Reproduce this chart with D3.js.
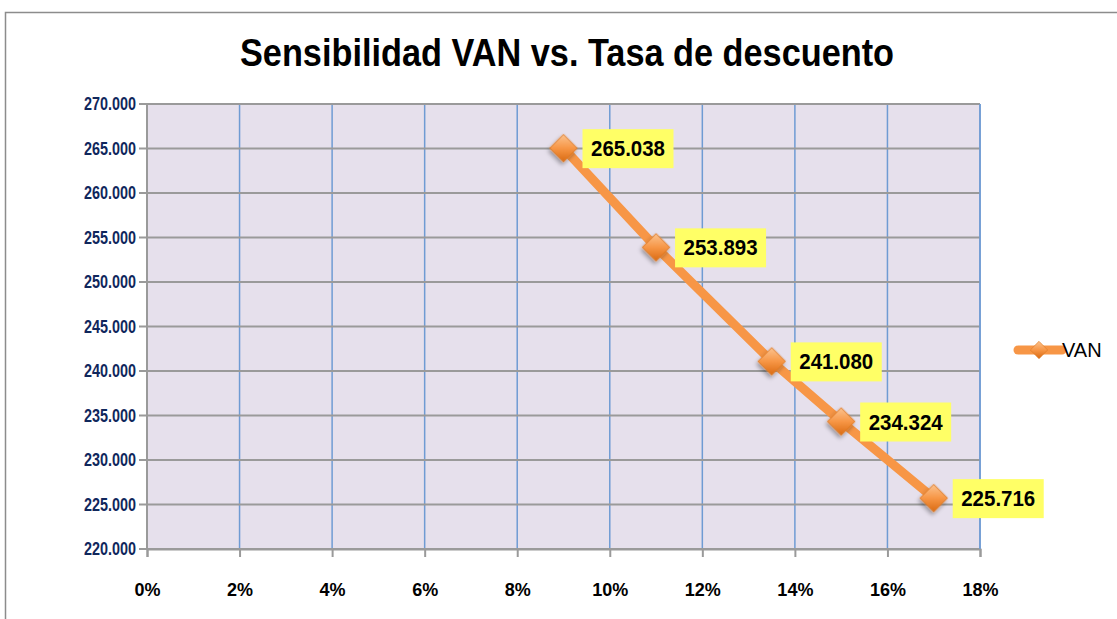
<!doctype html>
<html lang="es">
  <head>
    <meta charset="utf-8">
    <title>Sensibilidad VAN vs. Tasa de descuento</title>
    <script src="https://d3js.org/d3.v7.min.js"></script>
    <style>
      body { margin: 0; background: #fff; }
      svg { display: block; }
      text { font-family: "Liberation Sans", Arial, sans-serif; }
    </style>
  </head>
  <body>
    <div id="chart"></div>
    <script>

      // data
      const rates = [0.09, 0.11, 0.135, 0.15, 0.17];
      const van = [265038, 253893, 241080, 234324, 225716];
      const xTicks = [0, 0.02, 0.04, 0.06, 0.08, 0.10, 0.12, 0.14, 0.16, 0.18];
      const yTicks = [220000, 225000, 230000, 235000, 240000, 245000, 250000, 255000, 260000, 265000, 270000];
      const seriesName = "VAN";

      const W = 1117, H = 619;
      const margin = {top: 104, right: 137, bottom: 70, left: 147};
      const width = W - margin.left - margin.right,
            height = H - margin.top - margin.bottom;

      const svg = d3.select("#chart")
        .append("svg")
          .attr("width", W)
          .attr("height", H);

      // outer chart frame
      svg.append("rect")
        .attr("x", 5.5).attr("y", 12.5)
        .attr("width", W + 20).attr("height", H + 20)
        .attr("fill", "#fff")
        .attr("stroke", "#8c8c8c")
        .attr("stroke-width", 1.5);

      const defs = svg.append("defs");
      const grad = defs.append("linearGradient")
        .attr("id", "dia")
        .attr("x1", "0%").attr("y1", "0%")
        .attr("x2", "100%").attr("y2", "100%");
      grad.append("stop").attr("offset", "0%").attr("stop-color", "#fbc38f");
      grad.append("stop").attr("offset", "50%").attr("stop-color", "#f79646");
      grad.append("stop").attr("offset", "100%").attr("stop-color", "#d96a12");
      const shadow = defs.append("filter").attr("id", "shadow")
        .attr("x", "-50%").attr("y", "-50%").attr("width", "200%").attr("height", "200%");
      shadow.append("feDropShadow")
        .attr("dx", 1).attr("dy", 3).attr("stdDeviation", 2)
        .attr("flood-color", "#000").attr("flood-opacity", 0.35);

      // title (condensed to the width of the original)
      svg.append("text")
        .attr("x", 567)
        .attr("y", 66)
        .attr("text-anchor", "middle")
        .attr("font-size", "39px")
        .attr("font-weight", "bold")
        .attr("textLength", 654)
        .attr("lengthAdjust", "spacingAndGlyphs")
        .text("Sensibilidad  VAN  vs. Tasa de descuento");

      const g = svg.append("g")
        .attr("transform", `translate(${margin.left},${margin.top})`);

      const x = d3.scaleLinear()
        .domain([0, 0.18])
        .range([0, width]);

      const y = d3.scaleLinear()
        .domain([220000, 270000])
        .range([height, 0]);

      const fmtY = v => d3.format(",")(v).replace(/,/g, ".");
      const fmtX = d3.format(".0%");

      // plot background
      g.append("rect")
        .attr("width", width)
        .attr("height", height)
        .attr("fill", "#e6e0ec");

      // vertical gridlines (blue)
      g.append("g")
        .selectAll("line")
        .data(xTicks.slice(1))
        .join("line")
          .attr("x1", d => x(d)).attr("x2", d => x(d))
          .attr("y1", 0).attr("y2", height)
          .attr("stroke", "#6f9bd3")
          .attr("stroke-width", 1.5);

      // horizontal gridlines (gray)
      g.append("g")
        .selectAll("line")
        .data(yTicks)
        .join("line")
          .attr("x1", -8).attr("x2", width)
          .attr("y1", d => y(d)).attr("y2", d => y(d))
          .attr("stroke", "#9a9a9a")
          .attr("stroke-width", 2);

      // Y axis
      const yAxis = g.append("g")
        .call(d3.axisLeft(y).tickValues(yTicks).tickFormat(fmtY).tickSize(0).tickPadding(11));
      yAxis.select(".domain").remove();
      yAxis.selectAll("text")
        .attr("fill", "#10275c")
        .attr("font-size", "18px")
        .attr("font-weight", "bold")
        .attr("font-family", "'Liberation Sans', Arial, sans-serif")
        .attr("textLength", 52)
        .attr("lengthAdjust", "spacingAndGlyphs");
      g.append("line")
        .attr("x1", 0).attr("x2", 0)
        .attr("y1", 0).attr("y2", height)
        .attr("stroke", "#9a9a9a").attr("stroke-width", 2);

      // X axis
      const xAxis = g.append("g")
        .attr("transform", `translate(0,${height})`)
        .call(d3.axisBottom(x).tickValues(xTicks).tickFormat(fmtX).tickSize(8).tickPadding(26));
      xAxis.select(".domain")
        .attr("stroke", "#9a9a9a").attr("stroke-width", 2);
      xAxis.selectAll(".tick line")
        .attr("stroke", "#9a9a9a").attr("stroke-width", 2);
      xAxis.selectAll("text")
        .attr("fill", "#000")
        .attr("font-size", "18px")
        .attr("font-weight", "bold")
        .attr("font-family", "'Liberation Sans', Arial, sans-serif");

      // right border of plot
      g.append("line")
        .attr("x1", width).attr("x2", width)
        .attr("y1", 0).attr("y2", height)
        .attr("stroke", "#6f9bd3").attr("stroke-width", 1.5);

      const pts = rates.map((r, i) => ({r: r, v: van[i]}));

      // line
      g.append("path")
        .datum(pts)
        .attr("fill", "none")
        .attr("stroke", "#f79646")
        .attr("stroke-width", 9)
        .attr("stroke-linejoin", "round")
        .attr("d", d3.line().x(d => x(d.r)).y(d => y(d.v)));

      // diamond markers
      const diamond = d3.symbol().type(d3.symbolSquare).size(380);
      g.selectAll(".marker")
        .data(pts)
        .join("path")
          .attr("class", "marker")
          .attr("d", diamond)
          .attr("transform", d => `translate(${x(d.r)},${y(d.v)}) rotate(45)`)
          .attr("fill", "url(#dia)")
          .attr("stroke", "#e07a22")
          .attr("stroke-width", 0.8)
          .attr("filter", "url(#shadow)");

      // data labels
      const lbl = g.selectAll(".lbl")
        .data(pts)
        .join("g")
          .attr("class", "lbl")
          .attr("transform", d => `translate(${x(d.r) + 19},${y(d.v)})`);
      lbl.append("rect")
        .attr("x", 0).attr("y", -19)
        .attr("width", 91).attr("height", 39)
        .attr("fill", "#ffff66");
      lbl.append("text")
        .attr("x", 45.5).attr("y", 8)
        .attr("text-anchor", "middle")
        .attr("font-size", "22px")
        .attr("font-weight", "bold")
        .attr("fill", "#000")
        .attr("textLength", 74)
        .attr("lengthAdjust", "spacingAndGlyphs")
        .text(d => fmtY(d.v));

      // legend
      const leg = svg.append("g").attr("transform", "translate(1018,350)");
      leg.append("line")
        .attr("x1", 0).attr("x2", 44)
        .attr("stroke", "#f79646").attr("stroke-width", 9)
        .attr("stroke-linecap", "round");
      leg.append("path")
        .attr("d", d3.symbol().type(d3.symbolSquare).size(150))
        .attr("transform", "translate(21,0) rotate(45)")
        .attr("fill", "url(#dia)")
        .attr("stroke", "#e07a22").attr("stroke-width", 0.6);
      leg.append("text")
        .attr("x", 44).attr("y", 7)
        .attr("font-size", "20px")
        .attr("fill", "#000")
        .text(seriesName);

    </script>
  </body>
</html>
